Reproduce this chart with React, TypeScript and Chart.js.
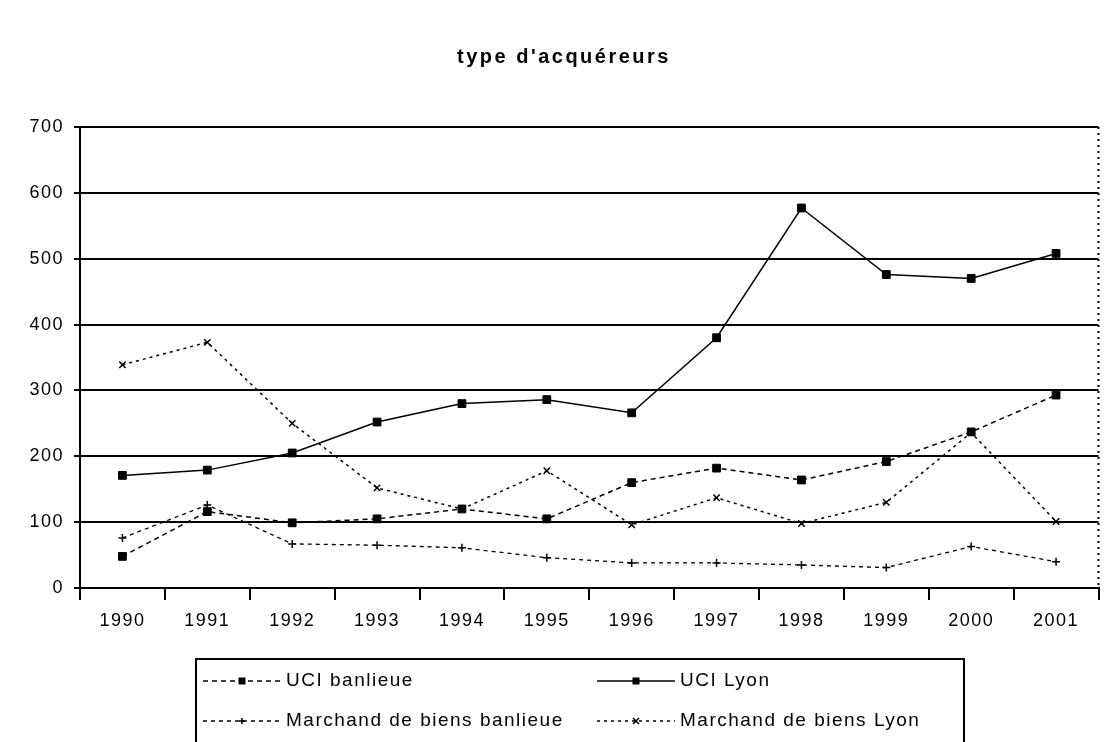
import React, { useEffect, useRef } from "react";
import { Chart, registerables } from "chart.js";

Chart.register(...registerables);

const years = ["1990", "1991", "1992", "1993", "1994", "1995", "1996", "1997", "1998", "1999", "2000", "2001"];
const ucBanlieue = [48, 116, 99, 105, 120, 105, 160, 182, 164, 192, 237, 293];
const ucLyon = [171, 179, 205, 252, 280, 286, 266, 380, 577, 476, 470, 508];
const mdbBanlieue = [76, 126, 67, 65, 61, 46, 38, 38, 35, 31, 63, 40];
const mdbLyon = [339, 373, 250, 152, 120, 178, 96, 137, 98, 130, 236, 101];
const seriesNames = ["UCI banlieue", "UCI Lyon", "Marchand de biens banlieue", "Marchand de biens Lyon"];
const titleText = "type d'acquéreurs";
const yMin = 0;
const yMax = 700;
const yStep = 100;

const FONT = "'Liberation Sans', Arial, sans-serif";

const spacingPlugin = {
  id: "spacing",
  beforeDraw(chart: any) {
    (chart.ctx as any).letterSpacing = "1.5px";
  },
};

const decorPlugin = {
  id: "decor",
  afterDraw(chart: any) {
    const ctx = chart.ctx as any;
    const area = chart.chartArea;
    ctx.save();
    // title
    ctx.fillStyle = "#000";
    ctx.letterSpacing = "2.5px";
    ctx.font = `bold 20px ${FONT}`;
    ctx.textAlign = "center";
    ctx.textBaseline = "middle";
    ctx.fillText(titleText, 564, 57);
    ctx.letterSpacing = "0px";
    // right dotted border
    ctx.strokeStyle = "#000";
    ctx.lineWidth = 2;
    ctx.setLineDash([2, 4]);
    ctx.beginPath();
    ctx.moveTo(area.right, area.top);
    ctx.lineTo(area.right, area.bottom);
    ctx.stroke();
    ctx.setLineDash([]);
    // legend box
    ctx.lineWidth = 2;
    ctx.strokeRect(196, 659, 768, 110);
    // legend entries
    const pos = [
      { x: 203, y: 681 },
      { x: 597, y: 681 },
      { x: 203, y: 721 },
      { x: 597, y: 721 },
    ];
    chart.data.datasets.forEach((ds: any, i: number) => {
      const p = pos[i];
      const len = 78;
      ctx.strokeStyle = ds.borderColor;
      ctx.lineWidth = ds.borderWidth;
      ctx.setLineDash(ds.borderDash || []);
      ctx.beginPath();
      ctx.moveTo(p.x, p.y);
      ctx.lineTo(p.x + len, p.y);
      ctx.stroke();
      ctx.setLineDash([]);
      const mx = p.x + len / 2;
      ctx.fillStyle = "#000";
      ctx.strokeStyle = "#000";
      ctx.lineWidth = 1.5;
      if (ds.pointStyle === "rect") {
        ctx.fillRect(mx - 3.5, p.y - 3.5, 7, 7);
      } else if (ds.pointStyle === "crossRot") {
        ctx.beginPath();
        ctx.moveTo(mx - 3, p.y - 3);
        ctx.lineTo(mx + 3, p.y + 3);
        ctx.moveTo(mx + 3, p.y - 3);
        ctx.lineTo(mx - 3, p.y + 3);
        ctx.stroke();
      } else {
        ctx.beginPath();
        ctx.moveTo(mx - 3, p.y);
        ctx.lineTo(mx + 3, p.y);
        ctx.moveTo(mx, p.y - 3);
        ctx.lineTo(mx, p.y + 3);
        ctx.stroke();
      }
      ctx.fillStyle = "#000";
      ctx.letterSpacing = "1.5px";
      ctx.font = `19px ${FONT}`;
      ctx.textAlign = "left";
      ctx.textBaseline = "middle";
      ctx.fillText(ds.label, p.x + len + 5, p.y);
      ctx.letterSpacing = "0px";
    });
    ctx.restore();
  },
};

export default function App() {
  const ref = useRef<HTMLCanvasElement | null>(null);
  useEffect(() => {
    document.body.style.margin = "0";
    document.body.style.background = "#fff";
    const canvas = ref.current!;
    const chart = new Chart(canvas, {
      type: "line",
      data: {
        labels: years,
        datasets: [
          {
            label: seriesNames[0],
            data: ucBanlieue,
            borderColor: "#000",
            backgroundColor: "#000",
            borderWidth: 1.5,
            borderDash: [5, 4],
            pointStyle: "rect",
            pointRadius: 5.5,
            pointBorderWidth: 1,
          },
          {
            label: seriesNames[1],
            data: ucLyon,
            borderColor: "#000",
            backgroundColor: "#000",
            borderWidth: 1.5,
            pointStyle: "rect",
            pointRadius: 5.5,
            pointBorderWidth: 1,
          },
          {
            label: seriesNames[2],
            data: mdbBanlieue,
            borderColor: "#000",
            backgroundColor: "#000",
            borderWidth: 1.3,
            borderDash: [4, 4],
            pointStyle: "cross",
            pointRadius: 4,
            pointBorderWidth: 1.5,
          },
          {
            label: seriesNames[3],
            data: mdbLyon,
            borderColor: "#000",
            backgroundColor: "#000",
            borderWidth: 1.5,
            borderDash: [3, 4],
            pointStyle: "crossRot",
            pointRadius: 4.5,
            pointBorderWidth: 1.5,
          },
        ],
      },
      options: {
        responsive: false,
        animation: false,
        devicePixelRatio: 1,
        layout: { padding: { top: 127, right: 6, left: 0, bottom: 0 } },
        plugins: {
          legend: { display: false },
          title: { display: false },
          tooltip: { enabled: false },
        },
        scales: {
          x: {
            offset: true,
            grid: {
              offset: true,
              drawOnChartArea: false,
              drawTicks: true,
              tickLength: 12,
              color: "#000",
              lineWidth: 2,
            },
            border: { display: true, color: "#000", width: 2 },
            ticks: {
              color: "#000",
              font: { family: FONT, size: 18 },
              padding: 10,
              maxRotation: 0,
              autoSkip: false,
            },
            afterFit: (s: any) => {
              s.height = 154;
            },
          },
          y: {
            min: yMin,
            max: yMax,
            grid: {
              color: "#000",
              lineWidth: 2,
              tickLength: 6,
            },
            border: { display: true, color: "#000", width: 2 },
            ticks: {
              stepSize: yStep,
              color: "#000",
              font: { family: FONT, size: 18 },
              padding: 10,
            },
            afterFit: (s: any) => {
              s.width = 80;
            },
          },
        },
      },
      plugins: [spacingPlugin, decorPlugin],
    });
    return () => chart.destroy();
  }, []);
  return (
    <div style={{ position: "fixed", left: 0, top: 0, width: 1105, height: 742, background: "#fff" }}>
      <canvas ref={ref} width={1105} height={742} style={{ width: 1105, height: 742 }} />
    </div>
  );
}
